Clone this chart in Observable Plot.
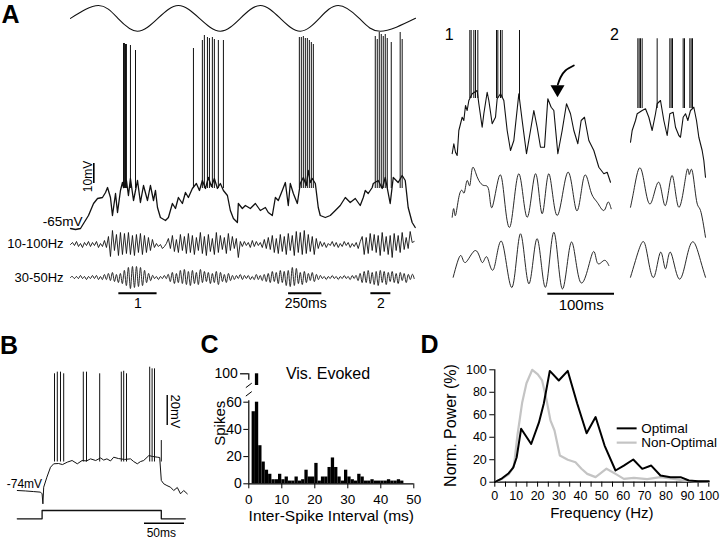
<!DOCTYPE html>
<html><head><meta charset="utf-8">
<script src="https://cdn.jsdelivr.net/npm/d3@7"></script>
<script src="https://cdn.jsdelivr.net/npm/@observablehq/plot@0.6"></script>
<style>
body{margin:0;background:#fff;}
#fig{position:relative;width:720px;height:540px;overflow:hidden;background:#fff;font-family:"Liberation Sans",Arial,Helvetica,sans-serif;}
#fig svg{position:absolute;left:0;top:0;}
.lbl{position:absolute;font-weight:bold;font-size:25px;line-height:25px;color:#000;}
</style></head><body><div id="fig">
<div class="lbl" style="left:1.5px;top:1.7px">A</div>
<div class="lbl" style="left:0px;top:333.4px">B</div>
<div class="lbl" style="left:200.5px;top:331.7px">C</div>
<div class="lbl" style="left:420.5px;top:331.7px">D</div>
</div>
<script>
// ---------- Panel A: stimulus (sine, relative units) ----------
const stimT = [0,210,356,502,656,810,968,1125,1275,1425,1575,1725,1868,2010,2168,2325,2590];
const stimV = [0,1,0,-1,0,1,0,-1,0,1,0,-1,0,1,0,-1,0];
// ---------- Panel A: membrane potential (ms, mV) ----------
const vmT = [0,38,75,98,135,173,203,240,263,278,300,315,338,353,375,390,398,420,435,450,473,503,525,548,578,600,623,638,653,675,713,735,765,788,810,840,863,885,915,945,968,990,1013,1035,1058,1080,1103,1125,1148,1178,1200,1223,1253,1260,1290,1313,1350,1388,1425,1463,1485,1515,1538,1560,1590,1613,1635,1650,1673,1703,1725,1748,1770,1785,1800,1815,1838,1860,1875,1913,1950,1988,2025,2063,2100,2138,2175,2198,2213,2235,2265,2273,2310,2340,2363,2400,2423,2460,2490,2513,2535,2565,2588];
const vmV = [-66,-66.5,-66,-63.5,-59.5,-53.5,-51,-50.5,-48,-45.5,-50.5,-59.5,-48.5,-58,-47,-43,-45.5,-42,-49.5,-41,-52,-42,-53,-44.5,-52,-44.5,-52,-47,-55.5,-60.5,-62,-60.5,-53.5,-56,-50.5,-53.5,-48,-50.5,-46,-43.5,-47,-42,-46,-40.5,-45,-41,-46,-43.5,-47,-49.5,-57,-61,-63,-53.5,-56,-54.5,-56,-53.5,-57,-55.5,-58,-59.5,-50.5,-52,-47,-43,-54.5,-43.5,-48.5,-53.5,-43.5,-40.5,-44.5,-37,-43,-41,-43.5,-55.5,-59.5,-60.5,-59.5,-57,-54.5,-50.5,-53,-51,-54.5,-50.5,-47,-48.5,-45.5,-43.5,-42,-46,-40.5,-53.5,-40.5,-43,-39.5,-42,-55.5,-63,-65.5];
const spkAT = [398,405,413,420,450,488,923,990,1005,1028,1043,1065,1080,1110,1148,1718,1733,1748,1763,1778,1793,1808,1823,2288,2303,2318,2333,2348,2363,2378,2408,2475,2490];
const spkAPk = [26.5,26.5,26,26,25.5,23,24,28,30.5,29.5,29,29.5,28.5,28,28,29.5,29.5,30,29,29,28,27,26,30,28.5,32,31,30,31,29,27,32,28.5];
// ---------- Panel A: filtered traces, sampled every 15 ms ----------
const f1A = [0,2,-1,3,-2,1,-3,2,-1,3,-2,2,-1,3,-3,1,-2,4,-3,
  8,-12,14,-6,10,-11,12,
  -10,11,-9,12,-10,9,-11,10,-8,11,-10,9,-8,7,-6,5,
  -3,1,-2,0,-4,-2,1,
  6,-4,9,-7,5,-8,10,-6,8,-9,
  11,-8,9,-10,7,-6,12,-9,8,-11,10,-7,6,-10,12,-8,9,-5,7,-9,11,-6,8,-4,6,-13,3,
  -2,3,-1,2,-3,4,-2,3,-1,2,-3,5,-4,
  7,-5,9,-8,6,-9,10,-7,8,-10,11,-6,9,-11,13,-8,12,-10,14,-9,10,-7,8,-10,6,-4,3,
  -2,2,-3,1,-1,3,-2,2,-3,1,-2,3,-1,2,-3,1,-2,2,-4,3,
  8,-10,7,-9,11,-6,10,-8,9,-11,12,-7,8,-10,9,-13,11,-6,9,-8,12,-5,7,-4,13,
  2,3];
const f2A = [0,1,-1,1,-1,2,-1,1,-2,1,-1,2,-1,2,-2,1,-2,3,-2,
  4,-3,5,-4,3,-5,4,
  -6,7,-8,10,-11,11,-10,11,-9,10,-8,7,-5,4,-3,2,
  -1,1,-2,1,-1,2,-1,
  3,-4,5,-6,4,-5,7,-6,8,-7,6,-8,7,-6,5,-7,8,-5,6,-4,5,-6,4,-5,6,-7,5,-4,3,-5,4,-3,2,
  -2,2,-1,3,-2,2,-1,2,-2,1,-2,3,-2,2,-3,3,-4,
  4,-5,6,-4,5,-6,7,-5,6,-8,7,-9,10,-8,9,-6,5,-7,6,-5,4,-3,5,-4,3,-2,2,
  -1,1,-2,1,-1,2,-1,1,-2,1,-1,2,-1,1,-2,2,-1,2,
  -3,4,-5,6,-5,7,-6,5,-7,6,-8,7,-5,6,-7,5,-4,6,-5,4,-6,5,-3,4,-5,3,-2,3,-1];
const fStep = 15;
// ---------- Inset 1 ----------
const in1VmT = [2.5,5,7.5,10,12.5,17.5,20,22.5,25,27.5,32.5,40,42.5,47.5,50,55,57.5,62.5,67.5,70,75,80,85,90,95,102.5,107.5,114,120,125,130,135,141,146,151,155,161,167.5,174,180,185,191,196,201,207.5,215,222.5,230,235,240];
const in1VmV = [-62.1,-58.1,-61.5,-62.8,-52.8,-47.5,-48.8,-42.8,-44.8,-40.8,-38.1,-36.8,-42.1,-51.5,-46.1,-37.5,-40.8,-50.1,-47.5,-40.1,-38.1,-40.8,-52.8,-60.8,-56.8,-38.1,-48.8,-62.1,-52.8,-44.8,-51.5,-59.5,-59.5,-40.1,-43.5,-44.8,-62.1,-52.8,-42.1,-46.1,-52.8,-58.1,-48.8,-47.5,-56.8,-60.8,-67.5,-70.1,-69.5,-73.5];
const in1Spk = [29,31,35,37.5,41,69,71,75,77.5,103.5];
const in1F1T = [2.5,5,7.5,12.5,17.5,21,25,29,32.5,37.5,42.5,50,57.5,62.5,72.5,80,90,102.5,115,127.5,137.5,147.5,160,176,189,200,210,220,230,236,241];
const in1F1V = [-8.7,-5.3,-8,-0.7,2,1.3,6,4,10.7,9.3,6,4,2,-4.7,7.3,0.7,-12,8.7,-8.7,8.7,-7.3,8.7,-8,9.3,-6,7.3,2,-2.7,-6,-2.7,-5.3];
const in1F2T = [4,15,22.5,37.5,47.5,55,65,77.5,92.5,105,117.5,130,142.5,155,167.5,181,195,212.5,220,230,237.5];
const in1F2V = [-6.7,2,-0.8,4,-0.8,1.3,-3.3,7.3,-10.7,10.7,-9.3,8.7,-10.7,11.3,-11.3,7.3,-8.7,2.7,-0.8,0,-2];
const arrowT = [185,172.5,165,161];
const arrowV = [-26.8,-28.8,-31.6,-34.4];
// ---------- Inset 2 ----------
const in2VmT = [0,2.5,7.5,10,17.5,22.5,27.5,32.5,37.5,40,45,50,55,59,64,67.5,72.5,75,79,82.5,86,90,95,99,102.5,107.5,110,112.5];
const in2VmV = [-57.5,-52.8,-48.8,-46.1,-44.8,-44.1,-47.5,-52.8,-46.1,-42.1,-40.8,-48.8,-54.8,-46.1,-45.5,-51.5,-54.8,-55.5,-47.5,-46.1,-48.8,-44.8,-43.5,-48.8,-55.5,-60.8,-64.8,-71.5];
const in2Spk = [11,13,15,17.5,40,59,61,63,79,81,89,91,93];
const in2F1T = [0,5,12.5,20,30,42.5,52.5,62.5,72.5,84,88,92.5,99,105,112.5];
const in2F1V = [-4.7,2,10.7,6,-3.3,5.3,-4,8,-4.7,9.3,8.4,10,-2,-6,-16.7];
const in2F2T = [0,7.5,17.5,25,35,45,52.5,60,72.5,85,95,105,112.5];
const in2F2V = [-6.7,0,7.3,2.7,-6.7,3.3,-3.3,3.3,-7.3,2,7.3,0,-6.7];
// ---------- Panel B ----------
const bVmT = [1,11,21,30,32,33,34,38,42.5,46.5,52.5,57.5,63.5,69.5,76,82,87.5,92.5,99,105,109,113,117.5,121.5,127.5,135,142.5,146.5,151,155,159,165.5,170,176,179,181,184,188,192.5,196.5,201,205,209,213.5];
const bVmV = [-74,-74.3,-74.7,-75.1,-76.2,-82.9,-71.8,-65.1,-58.5,-56.2,-56,-56.7,-55.1,-54,-56.2,-54,-54.3,-52.9,-54,-52.3,-53.7,-52.9,-54.3,-51.8,-52.7,-53.3,-52.9,-54.7,-56.2,-54.7,-54,-50.7,-51.3,-51.8,-52,-67.3,-69.5,-70.7,-71.8,-74,-72,-76.2,-74,-76.2];
const bSpkT = [47.5,51,55,59,83.5,87.5,104,131,134,137.5,166.5,169.5,172.5,181];
const bSpkPk = [3.8,4.9,4.9,3.8,4.9,4.9,3.8,4.9,5.5,3.8,8.2,7.1,7.1,-40.7];
const bStimT = [1,32,32,181,181,211];
const bStimV = [0,0,1,1,0,0];
// ---------- Panel C: ISI histogram (1 ms bins) ----------
const isiBin = [0,1,2,3,4,5,6,7,8,9,10,11,12,13,14,15,16,17,18,19,20,21,22,23,24,25,26,27,28,29,30,31,32,33,34,35,36,37,38,39,40,41,42,43,44,45,46];
const isiCount = [0,53,100,28,16,10,7,3,3,7,3,5,2,2,5,2,3,10,5,5,15,2,5,5,12,19,12,5,2,10,5,3,2,7,5,2,2,3,2,2,2,2,3,2,2,3,2];
const isiXTicks = [0,10,20,30,40,50];
const isiYTicks = [0,20,40,60];
// ---------- Panel D: power spectra ----------
const optHz = [0,3.4,6.5,8.6,10.2,12.3,17,20.6,22.9,25.7,29.9,34.1,38.5,42.9,47.1,51.3,56.4,60.3,64.7,68.9,73.1,77.4,82.1,86.8,90.7,95,100];
const optPow = [0,3.5,8,13,22,47.5,34,53,70,99,90.5,99,70,43.6,58,32.6,10.4,14.8,20.2,11.9,14.8,6,4.5,4.5,1.5,0.8,0.8];
const nonHz = [0,3.4,6.5,8.9,10.6,12.8,14.8,17.5,20.1,22.1,24,26,27.9,30.4,34.1,37.7,40.5,43.2,47.1,52.2,56.4,60.3,65,71.2,77.4,83.6,88,93,100];
const nonPow = [0,3,7,14,42,71,88,100,96,90.5,75,55,46,23.7,20,17.8,12,7.4,4.5,12,7.4,3,3.9,2.7,4.5,3,1.5,1,0.5];
const dXTicks = [0,5,10,15,20,25,30,35,40,45,50,55,60,65,70,75,80,85,90,95,100];
const dYTicks = [0,20,40,60,80,100];

// ================= drawing =================
const FONT = '"Liberation Sans", Arial, Helvetica, sans-serif';
const fig = document.getElementById("fig");
const rows = (xs, ys) => xs.map((x, i) => ({x, y: ys[i]}));
const sampled = (vals, step) => vals.map((v, i) => ({x: i * step, y: v}));
const txt = (s, o) => Plot.text([s], {text: d => d, fill: "#000", ...o});
function layer(opts) {
  const el = Plot.plot({width: 720, height: 540, margin: 0, ...opts,
    style: {background: "transparent", fontFamily: FONT, color: "#000", overflow: "visible"}});
  el.style.position = "absolute"; el.style.left = "0px"; el.style.top = "0px";
  fig.appendChild(el);
}
const K = "#111";

// A: time scale
const axA = {domain: [0, 2590], range: [70, 415], axis: null};
layer({x: axA, y: {domain: [-1, 1], range: [30.7, 5], axis: null},
  marks: [Plot.line(rows(stimT, stimV), {x: "x", y: "y", curve: "natural", stroke: K, strokeWidth: 1.1})]});
layer({x: axA, y: {domain: [-65, 35], range: [226, 26], axis: null},
  marks: [
    Plot.ruleX(rows(spkAT, spkAPk), {x: "x", y1: -46, y2: "y", stroke: K, strokeWidth: 1}),
    Plot.line(rows(vmT, vmV), {x: "x", y: "y", stroke: K, strokeWidth: 1.3, strokeLinejoin: "round"}),
    Plot.ruleX([175], {y1: -43.5, y2: -33.5, stroke: "#000", strokeWidth: 1.6}),
    txt("10mV", {x: 131, y: -40, rotate: -90, fontSize: 12}),
    txt("-65mV", {x: 90, y: -62.5, textAnchor: "end", fontSize: 13.5})
  ]});
layer({x: axA, y: {domain: [-15, 15], range: [259, 229], axis: null},
  marks: [
    Plot.line(sampled(f1A, fStep), {x: "x", y: "y", curve: "linear", stroke: K, strokeWidth: 0.9, strokeLinejoin: "round"}),
    txt("10-100Hz", {x: -52, y: 0.5, textAnchor: "end", fontSize: 13})
  ]});
layer({x: axA, y: {domain: [-15, 15], range: [292, 262], axis: null},
  marks: [
    Plot.line(sampled(f2A, fStep), {x: "x", y: "y", curve: "natural", stroke: K, strokeWidth: 0.9}),
    txt("30-50Hz", {x: -52, y: 0, textAnchor: "end", fontSize: 13}),
    Plot.ruleY([-15.7], {x1: 363, x2: 650, stroke: "#000", strokeWidth: 2}),
    Plot.ruleY([-15.7], {x1: 1637, x2: 1887, stroke: "#000", strokeWidth: 2}),
    Plot.ruleY([-15.7], {x1: 2255, x2: 2405, stroke: "#000", strokeWidth: 2}),
    txt("1", {x: 505, y: -26, fontSize: 14}),
    txt("250ms", {x: 1766, y: -26, fontSize: 14}),
    txt("2", {x: 2330, y: -26, fontSize: 14})
  ]});

// Insets
const ax1 = {domain: [0, 250], range: [450, 616.67], axis: null};
const ax2 = {domain: [0, 250], range: [630, 796.67], axis: null};
const yVmI = {domain: [-62, -12], range: [153, 28], axis: null};
const yF1I = {domain: [-10, 10], range: [220, 170], axis: null};
const yF2I = {domain: [-10, 10], range: [285, 235], axis: null};
layer({x: ax1, y: yVmI, marks: [
  Plot.ruleX(in1Spk, {x: d => d, y1: -40, y2: -12.8, stroke: K, strokeWidth: 1}),
  Plot.line(rows(in1VmT, in1VmV), {x: "x", y: "y", stroke: K, strokeWidth: 1.1}),
  Plot.line(rows(arrowT, arrowV), {x: "x", y: "y", curve: "natural", stroke: "#000", strokeWidth: 1.8}),
  Plot.dot([0], {x: 160.5, y: -36.3, symbol: "triangle", r: 5.2, fill: "#000", stroke: "none", rotate: 180}),
  txt("1", {x: -2, y: -14.4, fontSize: 16})
]});
layer({x: ax1, y: yF1I, marks: [Plot.line(rows(in1F1T, in1F1V), {x: "x", y: "y", curve: "natural", stroke: K, strokeWidth: 0.9})]});
layer({x: ax1, y: yF2I, marks: [
  Plot.line(rows(in1F2T, in1F2V), {x: "x", y: "y", curve: "natural", stroke: K, strokeWidth: 0.9}),
  Plot.ruleY([-13.3], {x1: 146, x2: 246, stroke: "#000", strokeWidth: 2}),
  txt("100ms", {x: 196, y: -17.8, fontSize: 15})
]});
layer({x: ax2, y: yVmI, marks: [
  Plot.ruleX(in2Spk, {x: d => d, y1: -44, y2: -16.1, stroke: K, strokeWidth: 1}),
  Plot.line(rows(in2VmT, in2VmV), {x: "x", y: "y", stroke: K, strokeWidth: 1.1}),
  txt("2", {x: -24, y: -14.4, fontSize: 16})
]});
layer({x: ax2, y: yF1I, marks: [Plot.line(rows(in2F1T, in2F1V), {x: "x", y: "y", curve: "natural", stroke: K, strokeWidth: 0.9})]});
layer({x: ax2, y: yF2I, marks: [Plot.line(rows(in2F2T, in2F2V), {x: "x", y: "y", curve: "natural", stroke: K, strokeWidth: 0.9})]});

// B
const axB = {domain: [0, 200], range: [16, 176], axis: null};
layer({x: axB, y: {domain: [-74, 6], range: [490, 370], axis: null}, marks: [
  Plot.ruleX(rows(bSpkT, bSpkPk), {x: "x", y1: -55, y2: "y", stroke: K, strokeWidth: 1}),
  Plot.line(rows(bVmT, bVmV), {x: "x", y: "y", stroke: K, strokeWidth: 1}),
  Plot.ruleX([188.4], {y1: -30.7, y2: -10.7, stroke: "#000", strokeWidth: 1.4}),
  txt("20mV", {x: 198, y: -21.3, rotate: 90, fontSize: 13}),
  txt("-74mV", {x: 32, y: -70, textAnchor: "end", fontSize: 12})
]});
layer({x: axB, y: {domain: [0, 1], range: [518.3, 510], axis: null}, marks: [
  Plot.line(rows(bStimT, bStimV), {x: "x", y: "y", stroke: K, strokeWidth: 1.3}),
  Plot.ruleY([-0.53], {x1: 160, x2: 210, stroke: "#000", strokeWidth: 1.4}),
  txt("50ms", {x: 181, y: -1.7, fontSize: 12})
]});

// C
const isi = isiBin.map((b, i) => ({b, c: isiCount[i]}));
layer({marginLeft: 248.3, marginRight: 306.7, marginTop: 401.7, marginBottom: 56.7,
  x: {domain: [0, 50]}, y: {domain: [0, 60]},
  marks: [
    Plot.rect(isi, {x1: "b", x2: d => d.b + 1, y1: 0, y2: d => Math.min(d.c, 60), fill: "#000"}),
    Plot.ruleY([0], {stroke: "#000", strokeWidth: 1.2}),
    Plot.ruleX([0], {y1: 0, y2: 61, stroke: "#000", strokeWidth: 1.2}),
    Plot.axisX({ticks: isiXTicks, tickSize: 5, tickPadding: 6, fontSize: 13.5, label: null}),
    Plot.axisY({ticks: isiYTicks, tickSize: 5, tickPadding: 2, fontSize: 14, label: null}),
    Plot.link([0, 1], {x1: -0.9, x2: 0.9, y1: d => 64.5 + d * 6.2, y2: d => 67.8 + d * 6.2, stroke: "#000", strokeWidth: 1}),
    txt("Inter-Spike Interval (ms)", {frameAnchor: "bottom", dy: 37, fontSize: 15.5}),
    txt("Spikes", {x: -8.6, y: 44.5, rotate: -90, fontSize: 15}),
    txt("Vis. Evoked", {x: 24, y: 80.9, fontSize: 16})
  ]});
layer({x: {domain: [0, 50], range: [248.3, 413.3], axis: null}, y: {domain: [91.5, 100], range: [385, 373.3], axis: null},
  marks: [
    Plot.rect(isi.filter(d => d.c > 60), {x1: "b", x2: d => d.b + 1, y1: 91.5, y2: "c", fill: "#000"}),
    Plot.ruleY([100], {x1: -2.5, x2: 0, stroke: "#000", strokeWidth: 1.2}),
    Plot.ruleX([0], {y1: 95.3, y2: 100, stroke: "#000", strokeWidth: 1.2}),
    txt("100", {x: -3.3, y: 100, textAnchor: "end", fontSize: 14})
  ]});

// D
layer({marginLeft: 494.3, marginRight: 11.7, marginTop: 369.3, marginBottom: 58.3,
  x: {domain: [0, 100]}, y: {domain: [0, 100]},
  marks: [
    Plot.ruleY([0], {stroke: "#000", strokeWidth: 1.2}),
    Plot.ruleX([0], {stroke: "#000", strokeWidth: 1.2}),
    Plot.axisX({ticks: dXTicks, tickFormat: d => d % 10 === 0 ? String(d) : "", tickSize: 5, tickPadding: 3.5, fontSize: 12.5, label: null}),
    Plot.axisY({ticks: dYTicks, tickSize: 5, tickPadding: 3, fontSize: 12.5, label: null}),
    Plot.line(rows(nonHz, nonPow), {x: "x", y: "y", stroke: "#c4c4c4", strokeWidth: 2.2, strokeLinejoin: "round"}),
    Plot.line(rows(optHz, optPow), {x: "x", y: "y", stroke: "#000", strokeWidth: 2, strokeLinejoin: "round"}),
    Plot.ruleY([47.9], {x1: 57.2, x2: 66.5, stroke: "#000", strokeWidth: 2}),
    Plot.ruleY([35.2], {x1: 57.2, x2: 66.5, stroke: "#c4c4c4", strokeWidth: 2.2}),
    txt("Optimal", {x: 68.4, y: 47.9, textAnchor: "start", fontSize: 13.5}),
    txt("Non-Optimal", {x: 68.4, y: 35.2, textAnchor: "start", fontSize: 13.5}),
    txt("Frequency (Hz)", {frameAnchor: "bottom", dy: 35.5, fontSize: 15}),
    txt("Norm. Power (%)", {x: -20.7, y: 50.4, rotate: -90, fontSize: 16})
  ]});
</script></body></html>
